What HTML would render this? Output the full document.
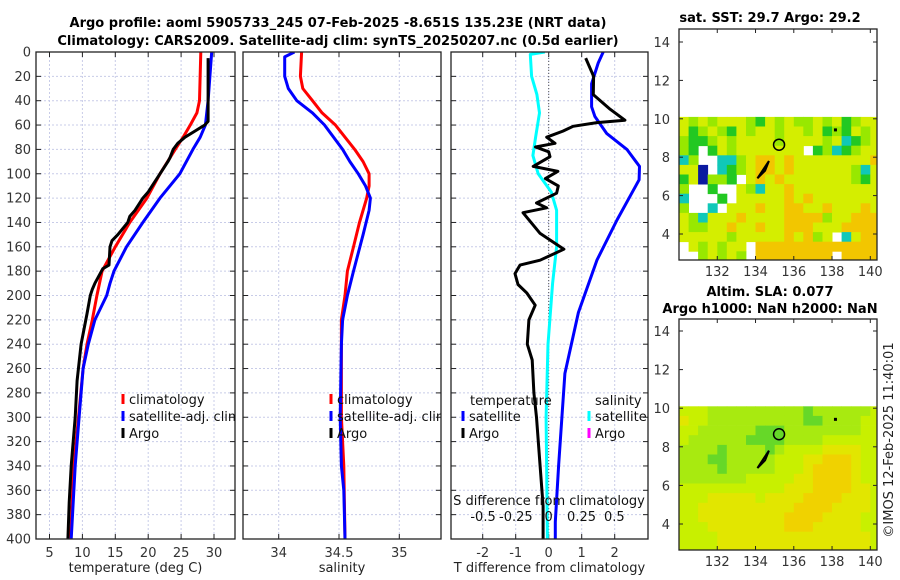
<!DOCTYPE html>
<html><head><meta charset="utf-8"><style>
body{margin:0;background:#fff}
svg{display:block;font-family:"DejaVu Sans","Liberation Sans",sans-serif}
</style></head><body>
<svg id="c" width="900" height="580" viewBox="0 0 900 580">
<defs>
<clipPath id="cp1"><rect x="36" y="52" width="199" height="487"/></clipPath>
<clipPath id="cp2"><rect x="243" y="52" width="198" height="487"/></clipPath>
<clipPath id="cp3"><rect x="451" y="52" width="197" height="487"/></clipPath>
</defs>
<text x="338" y="27" text-anchor="middle" font-size="13" font-weight="bold">Argo profile: aoml 5905733_245 07-Feb-2025 -8.651S 135.23E (NRT data)</text>
<text x="338" y="45" text-anchor="middle" font-size="13" font-weight="bold">Climatology: CARS2009. Satellite-adj clim: synTS_20250207.nc (0.5d earlier)</text>
<text x="770" y="22" text-anchor="middle" font-size="13" font-weight="bold">sat. SST: 29.7 Argo: 29.2</text>
<text x="770" y="296" text-anchor="middle" font-size="13" font-weight="bold">Altim. SLA: 0.077</text>
<text x="770" y="313" text-anchor="middle" font-size="13" font-weight="bold">Argo h1000: NaN h2000: NaN</text>
<text transform="translate(893,440) rotate(-90)" text-anchor="middle" font-size="13" fill="#222">©IMOS 12-Feb-2025 11:40:01</text>
</svg>
<script>
// ---------- data ----------
const tDepth = [0,40,50,60,70,80,100,120,140,160,180,200,220,240,260,300,340,400];
const tClim  = [28.0,27.8,27.4,26.4,25.3,24.1,21.8,19.8,17.2,15.0,13.0,12.2,11.5,10.7,10.1,9.4,8.7,8.2];
const tSatDepth = [0,40,60,70,80,100,120,140,160,180,190,200,220,240,260,300,340,400];
const tSat   = [29.65,29.1,28.7,27.9,26.8,24.8,21.8,19.2,16.7,14.8,14.2,13.7,11.9,10.9,10.1,9.5,8.9,8.3];
const argoDepth = [5,57,60,65,70,75,80,87,90,100,110,115,120,130,135,140,150,155,160,175,178,190,195,200,215,240,270,300,340,370,400];
const argoT = [29.1,29.1,28.6,27.1,25.6,24.5,23.8,23.3,23.0,21.8,20.6,20.0,19.2,18.0,17.2,16.9,15.4,14.5,14.2,14.05,13.1,11.9,11.5,11.2,10.7,9.8,9.2,8.9,8.3,8.0,7.8];
const sClimDepth = [0,20,30,40,50,60,70,80,90,100,110,120,140,160,180,200,220,260,300,340,400];
const sClim = [34.19,34.18,34.20,34.28,34.36,34.47,34.55,34.63,34.70,34.75,34.75,34.73,34.67,34.62,34.57,34.55,34.52,34.52,34.52,34.54,34.55];
const sSatDepth = [0,4,20,30,40,50,60,80,90,100,110,120,130,150,180,200,220,240,300,340,360,400];
const sSat = [34.13,34.05,34.05,34.08,34.15,34.28,34.38,34.53,34.59,34.66,34.72,34.76,34.75,34.70,34.62,34.57,34.53,34.52,34.51,34.52,34.54,34.55];
const dTSatDepth = [0,9,26,45,53,67,80,94,105,138,171,214,264,300,340,386,400];
const dTSat = [1.65,1.5,1.3,1.3,1.4,1.76,2.37,2.75,2.74,2.07,1.46,0.9,0.49,0.4,0.3,0.2,0.2];
const dSSatDepth = [0,2,20,35,50,70,85,100,115,130,160,190,240,300,400];
const dSSat = [-0.03,-0.14,-0.13,-0.09,-0.07,-0.10,-0.12,-0.08,0.02,0.06,0.06,0.03,-0.005,-0.02,-0.01];
const dTArgoDepth = [5,20,35,47,56,58,61,65,70,75,78,82,86,94,98,104,110,116,124,128,132,149,162,171,175,182,191,198,208,220,240,253,280,300,340,373,400];
const dTArgo = [1.12,1.36,1.35,1.86,2.31,1.46,0.74,0.43,-0.06,0.19,-0.4,0,0.04,-0.47,0.28,-0.1,0.29,0.24,-0.37,-0.06,-0.78,-0.26,0.46,-0.26,-0.87,-1.02,-0.93,-0.66,-0.41,-0.6,-0.65,-0.5,-0.45,-0.37,-0.26,-0.17,-0.17];
const depthTicks = [0,20,40,60,80,100,120,140,160,180,200,220,240,260,280,300,320,340,360,380,400];
const tTicks = [5,10,15,20,25,30];
const sTicks = [34,34.5,35];
const dTTicks = [-2,-1,0,1,2];
const dSTicks = [-0.5,-0.25,0,0.25,0.5];
const lonTicks = [132,134,136,138,140];
const latTicks = [4,6,8,10,12,14];
const sstGrid = [
"ylylyyylgylyllylyglyy",
"yglylgylyylyylyglgyly",
"lgglylyyyylyyyylycgly",
"lg.gylyyyyyyy.glcglyy",
"cl..cclyooyoyyyyyyyyo",
"yyb.cglyooyoyyyyyylcy",
"gybllg.yoyoyyyyyyylgy",
"l..g..ylcyyoyyyyyyyyy",
"c...g.yyyyyoyoyyyyyyy",
"l..c.yyyoyyooyyoyyyoy",
"ylcyyyoyyyyoooolyyooo",
"yllyyoyyoyyoooyyyoooo",
"yyyyylyyyyyoyoly.cyoo",
".ylylyy.ooooooooooooo",
"..lylyl.oooooooo.oooo"];
const slaGrid = [
"222111111111101111112",
"322111111111100111122",
"221111110001111111122",
"211111100001111222222",
"111101111012222333322",
"111001111122233444322",
"111101111122234444322",
"111111122222334444322",
"222222222223334444332",
"222333332333344443332",
"223333333333444433332",
"223333333334444333322",
"222333333334443333322",
"222233333333333333332",
"222233333333333333332"];
const argoLon = 135.23, argoLat = 8.65;

// ---------- helpers ----------
const NS = "http://www.w3.org/2000/svg";
const svg = document.getElementById('c');
function mk(tag, attrs, parent){ const e=document.createElementNS(NS,tag); for(const k in attrs) e.setAttribute(k,attrs[k]); (parent||svg).appendChild(e); return e; }
const Y0=52, Y1=539;
const yD = d => Y0 + d*(Y1-Y0)/400;
const xT = v => 49.5 + (v-5)*6.58;
const xS = v => 339 + (v-34.5)*120.6;
const xDT = v => 548.7 + v*33;
const xDS = v => 548.7 + v*131.3;

function panel(x0,x1,name,xticks,xf,xlab,clip,showY){
  const g = mk('g',{});
  
  
  depthTicks.forEach(d=>{ const l=mk('line',{x1:x0,x2:x1,y1:yD(d),y2:yD(d),stroke:'#c8cce8','stroke-width':1,'stroke-dasharray':'2,2'},g);
      });
  xticks.forEach(v=>{ const l=mk('line',{x1:xf(v),x2:xf(v),y1:Y0,y2:Y1,stroke:'#c8cce8','stroke-width':1,'stroke-dasharray':'2,2'},g);
      });
  depthTicks.forEach(d=>{ mk('line',{x1:x0,x2:x0+5,y1:yD(d),y2:yD(d),stroke:'#222'},g); mk('line',{x1:x1-5,x2:x1,y1:yD(d),y2:yD(d),stroke:'#222'},g);
    if(showY){ const t=mk('text',{x:x0-5,y:yD(d)+4.5,'text-anchor':'end','font-size':13,fill:'#333'},g); t.textContent=d;
        } });
  if(xlab){
    xticks.forEach(v=>{ mk('line',{x1:xf(v),x2:xf(v),y1:Y1,y2:Y1-5,stroke:'#222'},g); mk('line',{x1:xf(v),x2:xf(v),y1:Y0,y2:Y0+5,stroke:'#222'},g);
      const t=mk('text',{x:xf(v),y:557,'text-anchor':'middle','font-size':13,fill:'#333'},g); t.textContent=v;
        });
    const t=mk('text',{x:(x0+x1)/2,y:572,'text-anchor':'middle','font-size':13,fill:'#222'},g); t.textContent=xlab;
     
  }
  return g;
}
function line(xs,ds,xf,color,w,clip,name){
  const p = xs.map((v,i)=>xf(v).toFixed(1)+','+yD(ds[i]).toFixed(1)).join(' ');
  const e = mk('polyline',{points:p,fill:'none',stroke:color,'stroke-width':w,'stroke-linejoin':'round','clip-path':'url(#'+clip+')'});
  
  
  return e;
}
function border(x0,x1){ mk('rect',{x:x0,y:Y0,width:x1-x0,height:Y1-Y0,fill:'none',stroke:'#222','stroke-width':1.3}); }
function legend(x,y,color,label,clip){
  const m=mk('rect',{x:x-1.5,y:y-10,width:3,height:10,fill:color});
   
  const t=mk('text',{x:x+6,y:y,'font-size':13,fill:'#111','clip-path':clip?'url(#'+clip+')':''}); t.textContent=label;
   
}

// ---------- panel 1: temperature ----------
panel(36,235,'temperature-panel',tTicks,xT,'temperature (deg C)','cp1',true);
line(tClim,tDepth,xT,'#f00',3,'cp1','temperature-climatology-line');
line(tSat,tSatDepth,xT,'#00f',3,'cp1','temperature-satellite-line');
line(argoT,argoDepth,xT,'#000',3,'cp1','temperature-argo-line');
border(36,235);
legend(123,404,'#f00','climatology','cp1');
legend(123,421,'#00f','satellite-adj. clim','cp1');
legend(123,438,'#000','Argo','cp1');

// ---------- panel 2: salinity ----------
panel(243,441,'salinity-panel',sTicks,xS,'salinity','cp2',false);
line(sClim,sClimDepth,xS,'#f00',3,'cp2','salinity-climatology-line');
line(sSat,sSatDepth,xS,'#00f',3,'cp2','salinity-satellite-line');
border(243,441);
legend(331,404,'#f00','climatology','cp2');
legend(331,421,'#00f','satellite-adj. clim','cp2');
legend(331,438,'#000','Argo','cp2');

// ---------- panel 3: differences ----------
panel(451,648,'difference-panel',dTTicks,xDT,'T difference from climatology','cp3',false);
mk('line',{x1:xDT(0),x2:xDT(0),y1:Y0,y2:Y1,stroke:'#555','stroke-width':1,'stroke-dasharray':'1,2'});
line(dTSat,dTSatDepth,xDT,'#00f',3,'cp3','t-diff-satellite-line');
line(dSSat,dSSatDepth,xDS,'#0ff',3,'cp3','s-diff-satellite-line');
line(dTArgo,dTArgoDepth,xDT,'#000',3,'cp3','t-diff-argo-line');
border(451,648);
{ const t=mk('text',{x:470,y:405,'font-size':13,fill:'#111'}); t.textContent='temperature';
   
  const t2=mk('text',{x:595,y:405,'font-size':13,fill:'#111'}); t2.textContent='salinity';
    }
legend(463,421,'#00f','satellite','cp3');
legend(463,438,'#000','Argo','cp3');
legend(589,421,'#0ff','satellite','cp3');
legend(589,438,'#f0f','Argo','cp3');
{ const t=mk('text',{x:549,y:505,'text-anchor':'middle','font-size':13,fill:'#111'}); t.textContent='S difference from climatology';
   
  dSTicks.forEach(v=>{ const l=mk('text',{x:xDS(v),y:521,'text-anchor':'middle','font-size':13,fill:'#111'}); l.textContent=v;
      }); }

// ---------- maps ----------
const MX0=679, MX1=877;
const lonX = lo => MX0 + (lo-130.0)*(MX1-MX0)/10.35;
const sstCol = {'.':null,b:'#0a1aa0',c:'#10c8b8',g:'#22c822',l:'#98e800',y:'#d4ee00',o:'#f2c600'};
const slaCol = ['#66d828','#a8ea10','#c8f000','#e2e600','#f0d200'];
function map(yTop,yBot,lat14y,lat4y,grid,colf,name){
  const latY = la => lat4y + (la-4)*(lat14y-lat4y)/10;
  const g=mk('g',{});
  
  
  grid.forEach((row,r)=>{ for(let c=0;c<row.length;c++){ const col=colf(row[c]); if(!col) continue;
    const la=10.1-r*0.5, lo=130+c*0.5;
    const x=lonX(lo), x2=Math.min(lonX(lo+0.5),MX1), y=latY(la), y2=Math.min(latY(la-0.5),yBot);
    const cell=mk('rect',{x:x.toFixed(1),y:y.toFixed(1),width:(x2-x+0.4).toFixed(1),height:(y2-y+0.4).toFixed(1),fill:col},g);
      } });
  mk('path',{d:`M${lonX(134.1)} ${latY(6.9)} L${lonX(134.7)} ${latY(7.8)} L${lonX(134.5)} ${latY(7.3)} Z`,stroke:'#000','stroke-width':2,fill:'none'},g);
  mk('rect',{x:lonX(138.1),y:latY(9.5),width:3,height:3,fill:'#000'},g);
  const ci=mk('circle',{cx:lonX(argoLon),cy:latY(argoLat),r:5.5,fill:'none',stroke:'#000','stroke-width':1.5},g);
   
  mk('rect',{x:MX0,y:yTop,width:MX1-MX0,height:yBot-yTop,fill:'none',stroke:'#222','stroke-width':1.3},g);
  latTicks.forEach(la=>{ const y=latY(la);
    mk('line',{x1:MX0,x2:MX0+4,y1:y,y2:y,stroke:'#222'},g); mk('line',{x1:MX1-4,x2:MX1,y1:y,y2:y,stroke:'#222'},g);
    const t=mk('text',{x:MX0-9,y:y+5,'text-anchor':'end','font-size':13,fill:'#333'},g); t.textContent=la;
      });
  lonTicks.forEach(lo=>{ const x=lonX(lo);
    mk('line',{x1:x,x2:x,y1:yBot,y2:yBot-4,stroke:'#222'},g); mk('line',{x1:x,x2:x,y1:yTop,y2:yTop+4,stroke:'#222'},g);
    const t=mk('text',{x:x,y:yBot+16,'text-anchor':'middle','font-size':13,fill:'#333'},g); t.textContent=lo;
      });
}
map(29,260,42,234,sstGrid,ch=>sstCol[ch],'sst-map');
map(319,550,331,524,slaGrid,ch=>slaCol[+ch],'sla-map');
</script>
</body></html>
